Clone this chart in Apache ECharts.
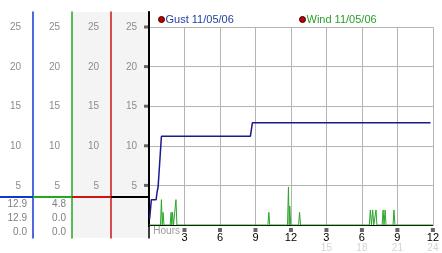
<!DOCTYPE html>
<html><head><meta charset="utf-8">
<script src="https://cdn.jsdelivr.net/npm/echarts@6/dist/echarts.min.js"></script>
<style>html,body{margin:0;padding:0;background:#fff}#c{width:442px;height:253px}</style>
</head><body><div id="c"></div>
<script>
// ---- data ----
const yTickLabels = [5, 10, 15, 20, 25];
const hourTicks = [0, 3, 6, 9, 12, 15, 18, 21, 24];
const hourLabels = ['Hours', '3', '6', '9', '12', '3', '6', '9', '12'];
const hourSubLabels = ['', '', '', '', '', '15', '18', '21', '24'];
const legendNames = ['Gust 11/05/06', 'Wind 11/05/06'];
const gustData = [[0.05,0.75],[0.2,3.2],[0.6,3.2],[0.7,4.3],[0.77,4.8],[0.85,4.8],[1.05,11.2],[8.57,11.2],[8.74,12.9],[23.8,12.9]];
const windData = [[0,0],[0.97,0],[1.05,3.2],[1.12,0],[1.19,1.6],[1.27,0],[1.79,0],[1.87,1.6],[1.93,0],[1.99,1.6],[2.07,0],[2.2,0],[2.28,3.2],[2.36,0],
  [10.05,0],[10.13,1.6],[10.21,0],[11.71,0],[11.79,4.8],[11.85,0],[11.9,2.4],[11.98,0],[12.65,0],[12.73,1.6],[12.81,0],
  [18.63,0],[18.71,1.9],[18.81,0],[18.91,1.9],[19.0,0],[19.19,1.9],[19.27,0],[19.71,0],[19.79,1.9],[19.87,0],[19.96,1.9],[20.04,0],
  [20.63,0],[20.71,1.9],[20.79,0],[24,0]];
const columnValues = [['12.9', '12.9', '0.0'], ['4.8', '0.0', '0.0'], [], []];

// ---- layout / style ----
const FONT = "'Liberation Sans', Arial, sans-serif";
const colLines = [33, 72, 111, 149];
const colColors = ['#1038d0', '#22a822', '#d01414', '#000000'];
const colBg = ['#ffffff', '#ffffff', '#f4f4f4', '#f4f4f4'];
const dividerY = 197;
const valueRowsY = [204, 218, 232];

const grids = [
  {left: 149, top: 27, width: 289, height: 199, show: false},
  {left: 149, top: 12, width: 289, height: 214, show: false}
];
const xAxes = [
  {gridIndex: 0, type: 'value', min: 0, max: 24, interval: 3,
   axisLine: {lineStyle: {color: '#000', width: 1}}, axisTick: {show: false},
   splitLine: {show: true, lineStyle: {color: '#b4b4b4', width: 1}},
   axisLabel: {margin: 3, fontFamily: FONT,
     formatter: function (v) {
       const i = hourTicks.indexOf(v);
       if (i < 0) return '';
       if (i === 0) return '{h|' + hourLabels[0] + '}';
       let s = '{m| }\n{v|' + hourLabels[i] + '}';
       if (hourSubLabels[i]) s += '\n{g|' + hourSubLabels[i] + '}';
       return s;
     },
     rich: {
       h: {fontSize: 10, color: '#9a9a9a', width: 62, align: 'right', lineHeight: 6, fontFamily: FONT},
       m: {fontSize: 3, width: 4, height: 4, lineHeight: 4, backgroundColor: '#666'},
       v: {fontSize: 11, color: '#000', lineHeight: 11, fontFamily: FONT},
       g: {fontSize: 10, color: '#d4d4d4', lineHeight: 10, fontFamily: FONT}
     }}},
  {gridIndex: 1, type: 'value', min: 0, max: 24, show: false}
];
const yAxes = [
  {gridIndex: 0, type: 'value', min: 0, max: 25, interval: 5,
   axisLine: {show: false}, axisTick: {show: false},
   splitLine: {show: true, lineStyle: {color: '#b4b4b4', width: 1}},
   axisLabel: {margin: 1, formatter: v => v > 0 ? '{m| }' : '',
     rich: {m: {fontSize: 3, width: 4, height: 3, lineHeight: 3, backgroundColor: '#666'}}}},
  {gridIndex: 1, type: 'value', min: 0, max: 26.9,
   axisLine: {show: true, onZero: false, lineStyle: {color: '#000', width: 2}},
   axisTick: {show: false}, axisLabel: {show: false}, splitLine: {show: false}}
];
colLines.forEach((x, i) => {
  const left = i === 0 ? 0 : colLines[i - 1];
  grids.push({left: left, top: 12, width: x - left, height: 226, show: true,
    backgroundColor: colBg[i], borderWidth: 0});
  const gi = grids.length - 1;
  xAxes.push({gridIndex: gi, type: 'value', show: false, min: 0, max: 1});
  yAxes.push({gridIndex: gi, type: 'value', position: 'right', min: -1.5, max: 26.9,
    axisLine: {show: true, onZero: false, lineStyle: {color: colColors[i], width: 1.5}},
    axisTick: {show: false}, splitLine: {show: false},
    axisLabel: {inside: true, margin: 12, customValues: yTickLabels, color: '#8c8c8c',
      fontSize: 10, fontFamily: FONT}});
});

const graphic = [];
colLines.forEach((x, i) => {
  const left = i === 0 ? 0 : colLines[i - 1];
  graphic.push({type: 'line', z: 50, shape: {x1: left, y1: dividerY, x2: x, y2: dividerY},
    style: {stroke: colColors[i], lineWidth: 2}});
  columnValues[i].forEach((t, r) => {
    graphic.push({type: 'text', z: 50, style: {text: t, x: x - 6, y: valueRowsY[r], align: 'right',
      verticalAlign: 'middle', fill: '#808080', font: '10px ' + FONT}});
  });
});

const chart = echarts.init(document.getElementById('c'), null, {renderer: 'canvas'});
chart.setOption({
  animation: false,
  backgroundColor: '#fff',
  grid: grids, xAxis: xAxes, yAxis: yAxes,
  legend: [
    {left: 158, top: 14, padding: 0, itemWidth: 6, itemHeight: 6, icon: 'circle', selectedMode: false,
     textStyle: {fontSize: 11, fontFamily: FONT, padding: [0, 0, 0, -4]},
     data: [{name: legendNames[0], itemStyle: {color: '#c00000', borderColor: '#300', borderWidth: 1},
       textStyle: {color: '#1f3fa0'}}]},
    {left: 299, top: 14, padding: 0, itemWidth: 6, itemHeight: 6, icon: 'circle', selectedMode: false,
     textStyle: {fontSize: 11, fontFamily: FONT, padding: [0, 0, 0, -4]},
     data: [{name: legendNames[1], itemStyle: {color: '#c00000', borderColor: '#300', borderWidth: 1},
       textStyle: {color: '#2a9e2a'}}]}
  ],
  graphic: graphic,
  series: [
    {name: legendNames[1], type: 'line', xAxisIndex: 0, yAxisIndex: 0, data: windData,
     showSymbol: false, lineStyle: {color: '#2aa52a', width: 1}, itemStyle: {color: '#2aa52a'}, z: 3},
    {name: legendNames[0], type: 'line', xAxisIndex: 0, yAxisIndex: 0, data: gustData,
     showSymbol: false, lineStyle: {color: '#1a1a8c', width: 1.5}, itemStyle: {color: '#1a1a8c'}, z: 4}
  ]
});
</script></body></html>
